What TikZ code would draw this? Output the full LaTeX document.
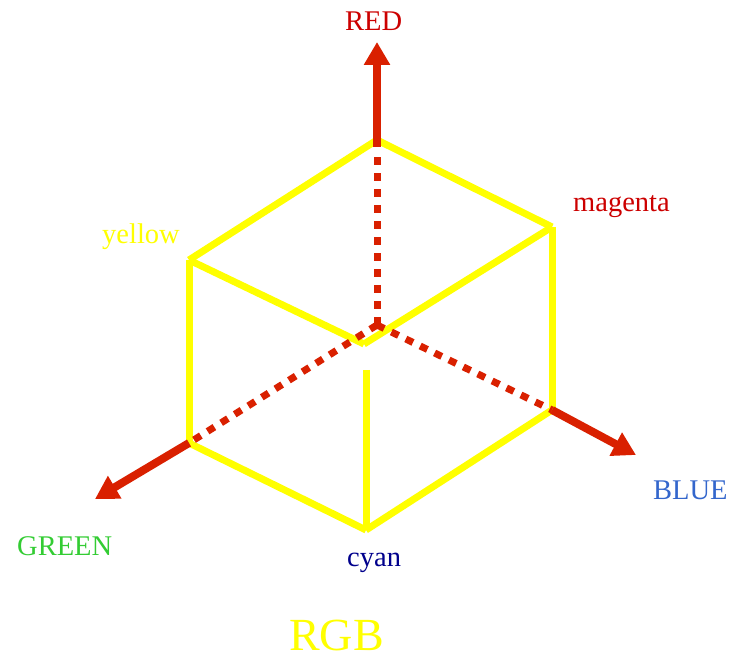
\documentclass[tikz,border=0pt]{standalone}
\usepackage{fontspec}
\setmainfont{Liberation Serif}
\usetikzlibrary{arrows.meta}
\definecolor{axisred}{RGB}{217,32,0}
\definecolor{cubeyellow}{RGB}{255,255,0}
\definecolor{lblred}{RGB}{204,0,0}
\definecolor{lblgreen}{RGB}{51,204,51}
\definecolor{lblblue}{RGB}{51,102,204}
\definecolor{lblnavy}{RGB}{0,0,140}
\begin{document}
\begin{tikzpicture}[x=1pt,y=-1pt,
  edge/.style={cubeyellow,line width=7pt},
  hidden/.style={axisred,line width=7pt,dash pattern=on 8pt off 8pt},
  axis/.style={axisred,line width=8pt,-{Triangle[length=23pt,width=25pt]}},
  lbl/.style={font=\fontsize{28.5}{30}\selectfont,inner sep=0pt,anchor=base west}]
\useasboundingbox (0,0) rectangle (742,660);
% cube corners
\coordinate (O) at (377,325);
\coordinate (T) at (377,140);
\coordinate (Y) at (189,260);
\coordinate (M) at (552,227);
\coordinate (W) at (364,344);
\coordinate (G) at (189,443);
\coordinate (B) at (552,410);
\coordinate (C) at (366,530);
\coordinate (Cs) at (366,370);
\coordinate (Ts) at (377,147);
\coordinate (Td) at (377,155);
\coordinate (Rtip) at (377,42);
\coordinate (Gtip) at (95,499);
\coordinate (Btip) at (636,455);
% visible edges
\draw[edge] (T) -- (Y);
\draw[edge] (T) -- (M);
\draw[edge] (Y) -- (W);
\draw[edge] (M) -- (W);
\draw[edge] (Y) -- (G);
\draw[edge] (M) -- (B);
\draw[edge] (G) -- (C);
\draw[edge] (B) -- (C);
\draw[edge] (Cs) -- (C);
% hidden axes
\draw[hidden] (O) -- (Td);
\draw[hidden] (O) -- (G);
\draw[hidden] (O) -- (B);
% axis arrows
\draw[axis] (Ts) -- (Rtip);
\draw[axis] (G) -- (Gtip);
\draw[axis] (B) -- (Btip);
% labels
\node[lbl,text=lblred] (lred) at (345,31) {RED};
\node[lbl,text=cubeyellow] (lyellow) at (102,244) {yellow};
\node[lbl,text=lblred] (lmagenta) at (573,212) {magenta};
\node[lbl,text=lblgreen] (lgreen) at (17,555) {GREEN};
\node[lbl,text=lblblue] (lblue) at (653,499) {BLUE};
\node[lbl,text=lblnavy] (lcyan) at (347,566) {cyan};
\node[inner sep=0pt,anchor=base west,text=cubeyellow,font=\fontsize{46}{48}\selectfont] (lrgb) at (289,650) {RGB};
\end{tikzpicture}
\end{document}
